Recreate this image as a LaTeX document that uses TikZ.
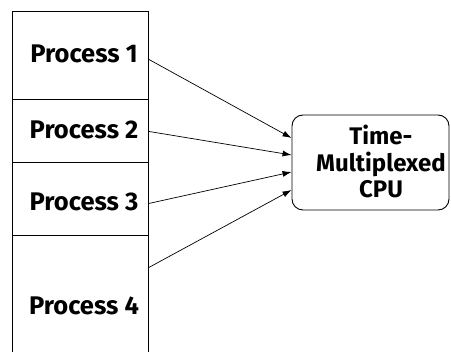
\documentclass[tikz,border=0pt]{standalone}
\usepackage{fontspec}
\setmainfont{Fira Sans}[BoldFont={Fira Sans Bold}]
\usetikzlibrary{arrows.meta}
\begin{document}
\begin{tikzpicture}[x=1pt,y=-1pt,
  procbox/.style={draw, line width=0.9pt, rectangle, inner sep=0pt, anchor=north west},
  proclabel/.style={font=\fontsize{25.5}{28}\selectfont\bfseries, inner sep=0pt},
  cpubox/.style={draw, line width=0.9pt, rounded corners=11pt, inner sep=0pt,
    minimum width=157pt, minimum height=95pt},
  cpulabel/.style={font=\fontsize{24}{26.5}\selectfont\bfseries, align=center, inner sep=0pt},
  feed/.style={line width=0.7pt, -{Latex[length=9pt,width=6pt]}}]
\useasboundingbox (0,0) rectangle (451,352);
% stacked process boxes; the lowest one runs past the bottom edge
\node[procbox, minimum width=136pt, minimum height=88pt] (b1) at (12,11) {};
\node[procbox, minimum width=136pt, minimum height=63pt] (b2) at (12,99) {};
\node[procbox, minimum width=136pt, minimum height=73pt] (b3) at (12,162) {};
\node[procbox, minimum width=136pt, minimum height=130pt] (b4) at (12,235) {};
\node[proclabel] (t1) at (84,54) {Process 1};
\node[proclabel] (t2) at (84,129.5) {Process 2};
\node[proclabel] (t3) at (84,202) {Process 3};
\node[proclabel] (t4) at (84,306) {Process 4};
% the shared processor
\node[cpubox] (cpu) at (370.5,162.5) {};
\node[cpulabel] (cput) at (381,161.5) {Time-\\Multiplexed\\CPU};
% feeds from each process into the processor
\draw[feed] ([yshift=-4pt]b1.east) -- ([yshift=24.5pt]cpu.west);
\draw[feed] ([yshift=-0.5pt]b2.east) -- ([yshift=7.5pt]cpu.west);
\draw[feed] ([yshift=-4.5pt]b3.east) -- ([yshift=-9.5pt]cpu.west);
\draw[feed] ([yshift=33pt]b4.east) -- ([yshift=-27.5pt]cpu.west);
\end{tikzpicture}
\end{document}
